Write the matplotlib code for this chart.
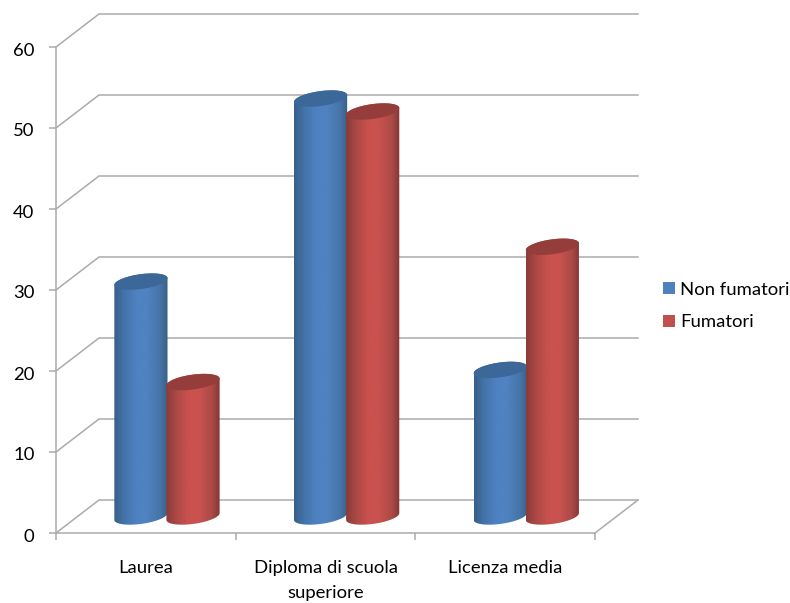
import numpy as np
import matplotlib
matplotlib.use("Agg")
import matplotlib.pyplot as plt
from matplotlib.colors import LinearSegmentedColormap
from matplotlib.patches import PathPatch, Patch, Polygon
from matplotlib.path import Path
from matplotlib.transforms import ScaledTranslation

categories = ["Laurea", "Diploma di scuola\nsuperiore", "Licenza media"]
non_fumatori = [29.0, 51.6, 18.1]
fumatori = [16.6, 50.0, 33.3]
y_ticks = [0, 10, 20, 30, 40, 50, 60]

plt.rcParams["font.family"] = ["Lato", "DejaVu Sans"]
GRID = "#ababab"
W, H = 790, 603
R = 0.148

fig = plt.figure(figsize=(W / 100, H / 100), dpi=100)
ax = fig.add_axes([56 / W, 1 - 533 / H, 539 / W, 486 / H])
ax.set_facecolor("none")

# profondita del grafico 3d, in unita dei dati
dx = 43 / (539 / 3)
dy = 33 / (486 / 60)

# griglia: parete laterale + parete di fondo
for v in y_ticks:
    ax.plot([0, dx, 3 + dx], [v, v + dy, v + dy], color=GRID, lw=1.1, clip_on=False, zorder=1)
ax.plot([3, 3 + dx], [0, dy], color=GRID, lw=1.1, clip_on=False, zorder=1)


def ellipse(cx, cy, t):
    b, k = 0.92, 0.42
    return np.column_stack([cx + R * np.cos(t), cy + b * np.sin(t) + k * np.cos(t)])


def cylinder(cx, value, stops, top_color, z):
    cx = cx + dx / 2
    y0 = dy / 2
    y1 = y0 + value
    bottom = ellipse(cx, y0, np.linspace(np.pi, 2 * np.pi, 60))
    top = ellipse(cx, y1, np.linspace(0, np.pi, 60))
    body = PathPatch(Path(np.vstack([bottom, top, bottom[:1]])), fc="none", ec="none",
                     transform=ax.transData)
    ax.add_patch(body)
    cmap = LinearSegmentedColormap.from_list("cyl", stops)
    grad = np.linspace(0, 1, 256).reshape(1, -1)
    im = ax.imshow(grad, cmap=cmap, aspect="auto", interpolation="bilinear", zorder=z,
                   extent=[cx - R, cx + R, y0 - 2, y1 + 2])
    im.set_clip_path(body)
    cap = ellipse(cx, y1, np.linspace(0, 2 * np.pi, 90))
    ax.add_patch(Polygon(cap, closed=True, fc=top_color, ec="none", zorder=z + 0.1, clip_on=False))


blue_stops = [(0, "#385f88"), (0.2, "#4474ab"), (0.42, "#4f82c2"), (0.62, "#4f82c0"), (0.85, "#4675a8"), (1, "#3a5f86")]
red_stops = [(0, "#8a3b39"), (0.2, "#ad4946"), (0.42, "#c9524f"), (0.62, "#c9524f"), (0.85, "#ab4a47"), (1, "#823735")]

z = 3
for i in range(len(categories)):
    cylinder(i + 0.498 - 0.145, non_fumatori[i], blue_stops, "#3c6799", z)
    cylinder(i + 0.498 + 0.145, fumatori[i], red_stops, "#943d3a", z + 1)
    z += 2

ax.set_xlim(0, 3)
ax.set_ylim(0, 60)

for s in ["top", "right"]:
    ax.spines[s].set_visible(False)
for s in ["left", "bottom"]:
    ax.spines[s].set_color(GRID)
    ax.spines[s].set_linewidth(1.1)

ax.set_yticks(y_ticks)
ax.set_xticks([0, 1, 2, 3])
ax.set_xticklabels([])
ax.set_xticks([0.5, 1.5, 2.5], minor=True)
ax.set_xticklabels(categories, minor=True, linespacing=1.65)
ax.tick_params(axis="y", length=5, width=1.1, color=GRID, pad=10.5, labelsize=13.3, labelcolor="black")
ax.tick_params(axis="x", which="major", length=5, width=1.1, color=GRID)
ax.tick_params(axis="x", which="minor", length=0, pad=19.5, labelsize=13.3, labelcolor="black")

# le etichette y stanno un po piu in basso del tick
shift = ScaledTranslation(0, -2 / 100, fig.dpi_scale_trans)
for lab in ax.get_yticklabels():
    lab.set_transform(lab.get_transform() + shift)

handles = [Patch(fc="#4f81bd", ec="none", label="Non fumatori"),
           Patch(fc="#c0504d", ec="none", label="Fumatori")]
fig.legend(handles=handles, loc="center left", bbox_to_anchor=(663 / W, 1 - 306 / H),
           frameon=False, fontsize=13.3, borderpad=0, borderaxespad=0,
           handlelength=0.65, handleheight=0.65, handletextpad=0.29, labelspacing=0.92)

fig.savefig("out.png", dpi=100)
